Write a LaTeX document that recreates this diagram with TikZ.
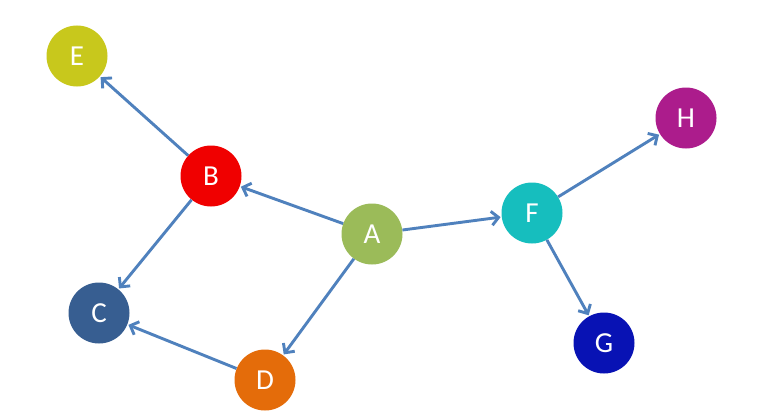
\documentclass[tikz,border=0pt]{standalone}
\usepackage{fontspec}
\setmainfont{Carlito}
\usetikzlibrary{arrows.meta}
\definecolor{cE}{RGB}{200,200,28}
\definecolor{cB}{RGB}{240,0,0}
\definecolor{cA}{RGB}{155,187,89}
\definecolor{cF}{RGB}{22,190,190}
\definecolor{cH}{RGB}{172,28,140}
\definecolor{cC}{RGB}{55,94,145}
\definecolor{cD}{RGB}{228,108,10}
\definecolor{cG}{RGB}{8,18,180}
\definecolor{edge}{RGB}{79,129,189}
\begin{document}
\begin{tikzpicture}[x=1pt,y=-1pt,
  vert/.style={circle,minimum size=61pt,inner sep=0pt,text=white,font=\fontsize{29}{32}\selectfont},
  link/.style={draw=edge,line width=2.9pt,-{Straight Barb[length=7pt,width=14pt,line width=2.9pt]},shorten >=1pt}]
\fill[white] (0,0) rectangle (759,412);
\useasboundingbox (0,0) rectangle (759,412);
\node[vert,fill=cE] (E) at (77,56) {E};
\node[vert,fill=cB] (B) at (211,176) {B};
\node[vert,fill=cA] (A) at (372,234) {A};
\node[vert,fill=cF] (F) at (532,213) {F};
\node[vert,fill=cH] (H) at (686,118) {H};
\node[vert,fill=cC] (C) at (99,313) {C};
\node[vert,fill=cD] (D) at (265,380) {D};
\node[vert,fill=cG] (G) at (604,343) {G};
\draw[link] (A) -- (B);
\draw[link] (B) -- (E);
\draw[link] (B) -- (C);
\draw[link] (A) -- (D);
\draw[link] (D) -- (C);
\draw[link] (A) -- (F);
\draw[link] (F) -- (H);
\draw[link] (F) -- (G);
\end{tikzpicture}
\end{document}
